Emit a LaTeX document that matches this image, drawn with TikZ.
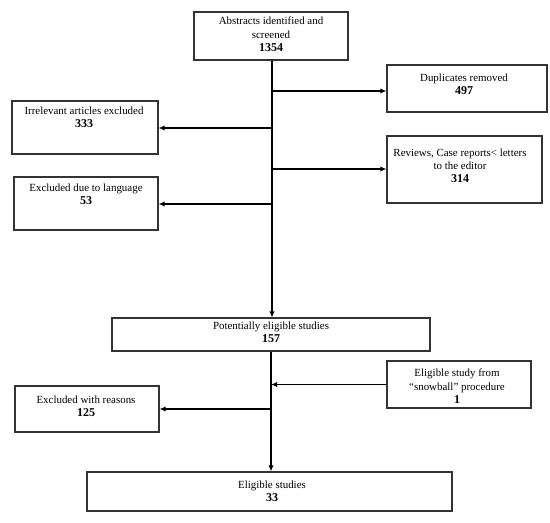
\documentclass[tikz,border=0pt]{standalone}
\usepackage{fontspec}
\setmainfont{Liberation Serif}
\usetikzlibrary{fit,arrows.meta}
\newcommand\numtxt[1]{{\fontsize{9}{11.5}\selectfont\textbf{#1}}}
\begin{document}
\begin{tikzpicture}[x=0.75pt,y=-0.75pt,
 box/.style={draw=black!80,line width=0.85pt,inner sep=0pt},
 txt/.style={anchor=north,align=center,inner sep=0pt,font=\fontsize{8.2}{9.8}\selectfont},
 conn/.style={line width=0.9pt,-{Latex[length=4.5pt,width=4pt]}}]
\useasboundingbox (0,0) rectangle (550,522);
% boxes
\node[box,fit={(194,12) (348,60)}] (abs) {};
\node[box,fit={(387,65) (547,112)}] (dup) {};
\node[box,fit={(12,101) (158,154)}] (irr) {};
\node[box,fit={(387,136) (542,203)}] (rev) {};
\node[box,fit={(14,177) (158,230)}] (lang) {};
\node[box,fit={(112,318) (430,351)}] (pot) {};
\node[box,fit={(387,361) (531,408)}] (snow) {};
\node[box,fit={(15,386) (159,432)}] (exr) {};
\node[box,fit={(87,472) (452,511)}] (elig) {};
% texts
\node[txt] (tabs) at (271,17) {Abstracts identified and\\screened\\\numtxt{1354}};
\node[txt] (tdup) at (464,74) {Duplicates removed\\\numtxt{497}};
\node[txt] (tirr) at (84,107) {Irrelevant articles excluded\\\numtxt{333}};
\node[txt] (trev) at (460,149) {Reviews, Case reports< letters\\to the editor\\\numtxt{314}};
\node[txt] (tlang) at (86,184) {Excluded due to language\\\numtxt{53}};
\node[txt] (tpot) at (271,322) {Potentially eligible studies\\\numtxt{157}};
\node[txt] (tsnow) at (457,369) {Eligible study from\\“snowball” procedure\\\numtxt{1}};
\node[txt] (texr) at (86,396) {Excluded with reasons\\\numtxt{125}};
\node[txt] (telig) at (272,481) {Eligible studies\\\numtxt{33}};
% spine coordinates
\coordinate (sp) at (272,0);
\coordinate (b1) at (272,91);
\coordinate (b2) at (272,128);
\coordinate (b3) at (272,169);
\coordinate (b4) at (272,204);
\coordinate (sp2) at (271,0);
\coordinate (c2) at (271,409);
% connectors
\draw[conn] (abs.south -| sp) -- (pot.north -| sp);
\draw[conn] (b1) -- (b1 -| dup.west);
\draw[conn] (b2) -- (b2 -| irr.east);
\draw[conn] (b3) -- (b3 -| rev.west);
\draw[conn] (b4) -- (b4 -| lang.east);
\draw[conn] (pot.south -| sp2) -- (elig.north -| sp2);
\draw[conn] (snow.west) -- (snow.west -| sp2);
\draw[conn] (c2) -- (c2 -| exr.east);
\end{tikzpicture}
\end{document}
